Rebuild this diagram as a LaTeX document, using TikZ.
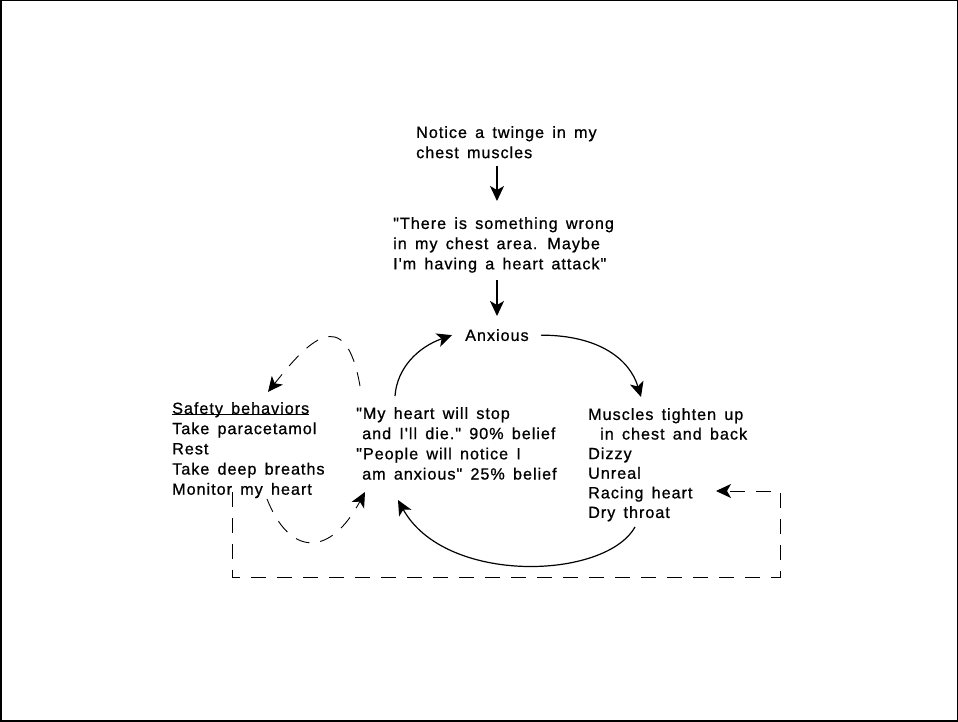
\documentclass[tikz,border=0pt]{standalone}
\usepackage{fontspec}
\setmainfont{Liberation Sans}[LetterSpace=6, FakeBold=0.8, WordSpace=1.5, Ligatures=TeXOff]
\usetikzlibrary{arrows.meta,calc}
\newcommand{\ulbase}[1]{\setbox0=\hbox{#1}\rlap{\rule[-1.4pt]{\wd0}{1pt}}\box0}
\begin{document}
\begin{tikzpicture}[x=1pt,y=1pt,
  txt/.style={anchor=north west, inner sep=0pt, align=left, font=\fontsize{16.2}{20.2}\selectfont},
  arr/.style={line width=1.2pt, -{Stealth[length=15pt,width=14pt,inset=4pt]}},
  darr/.style={line width=0.9pt, dash pattern=on 14pt off 11pt, -{Stealth[length=15pt,width=14pt,inset=4pt]}},
]
\useasboundingbox (0,0) rectangle (958,722);
\draw[line width=1.5pt] (0.75,0.75) rectangle (957.25,721.25);

\node[txt] (notice) at (416,596) {Notice a twinge in my\\chest muscles};
\node[txt] (wrong) at (393,505) {"There is something wrong\\in my chest area. Maybe\\I'm having a heart attack"};
\node[txt] (anx) at (465,393) {Anxious};
\node[txt] (safe) at (172,320) {\ulbase{Safety behaviors}\\Take paracetamol\\Rest\\Take deep breaths\\Monitor my heart};
\node[txt] (belief) at (356,315) {"My heart will stop\\\hspace{6pt}and I'll die." 90\% belief\\"People will notice I\\\hspace{6pt}am anxious" 25\% belief};
\node[txt, font=\fontsize{16.2}{19.6}\selectfont] (symp) at (588,314) {Muscles tighten up\\\hspace{12pt}in chest and back\\Dizzy\\Unreal\\Racing heart\\Dry throat};

% vertical arrows
\draw[arr] ([xshift=81pt,yshift=-40pt]notice.north west) -- ([xshift=104pt,yshift=16pt]wrong.north west);
\draw[arr] ([xshift=104pt,yshift=-63pt]wrong.north west) -- ([xshift=32pt,yshift=13pt]anx.north west);

% cycle
\draw[arr] ([xshift=12pt]anx.east) .. controls +(59,0) and +(-11,37) .. ([xshift=53pt,yshift=11pt]symp.north west);
\draw[arr] ([xshift=47pt,yshift=-119pt]symp.north west) .. controls +(-30,-53) and +(47,-85) .. ([xshift=42pt,yshift=-93pt]belief.north west);
\draw[arr] ([xshift=39pt,yshift=11pt]belief.north west) .. controls +(2,28) and +(-34,-12) .. ([xshift=-13pt]anx.west);

% safety loop
\draw[darr] ([xshift=4pt,yshift=21pt]belief.north west) .. controls +(-15,86) and +(38,48) .. ([xshift=96pt,yshift=10pt]safe.north west);
\draw[darr] ([xshift=95pt,yshift=-97pt]safe.north west) .. controls +(23,-58) and +(-35,-65) .. ([xshift=9pt,yshift=-85pt]belief.north west);
\draw[darr, dash pattern=on 15pt off 11pt] ([xshift=60pt,yshift=-90pt]safe.north west) -- ++(0,-85) -- ++(548,0) |- ([xshift=128pt,yshift=-83pt]symp.north west);
\end{tikzpicture}
\end{document}
